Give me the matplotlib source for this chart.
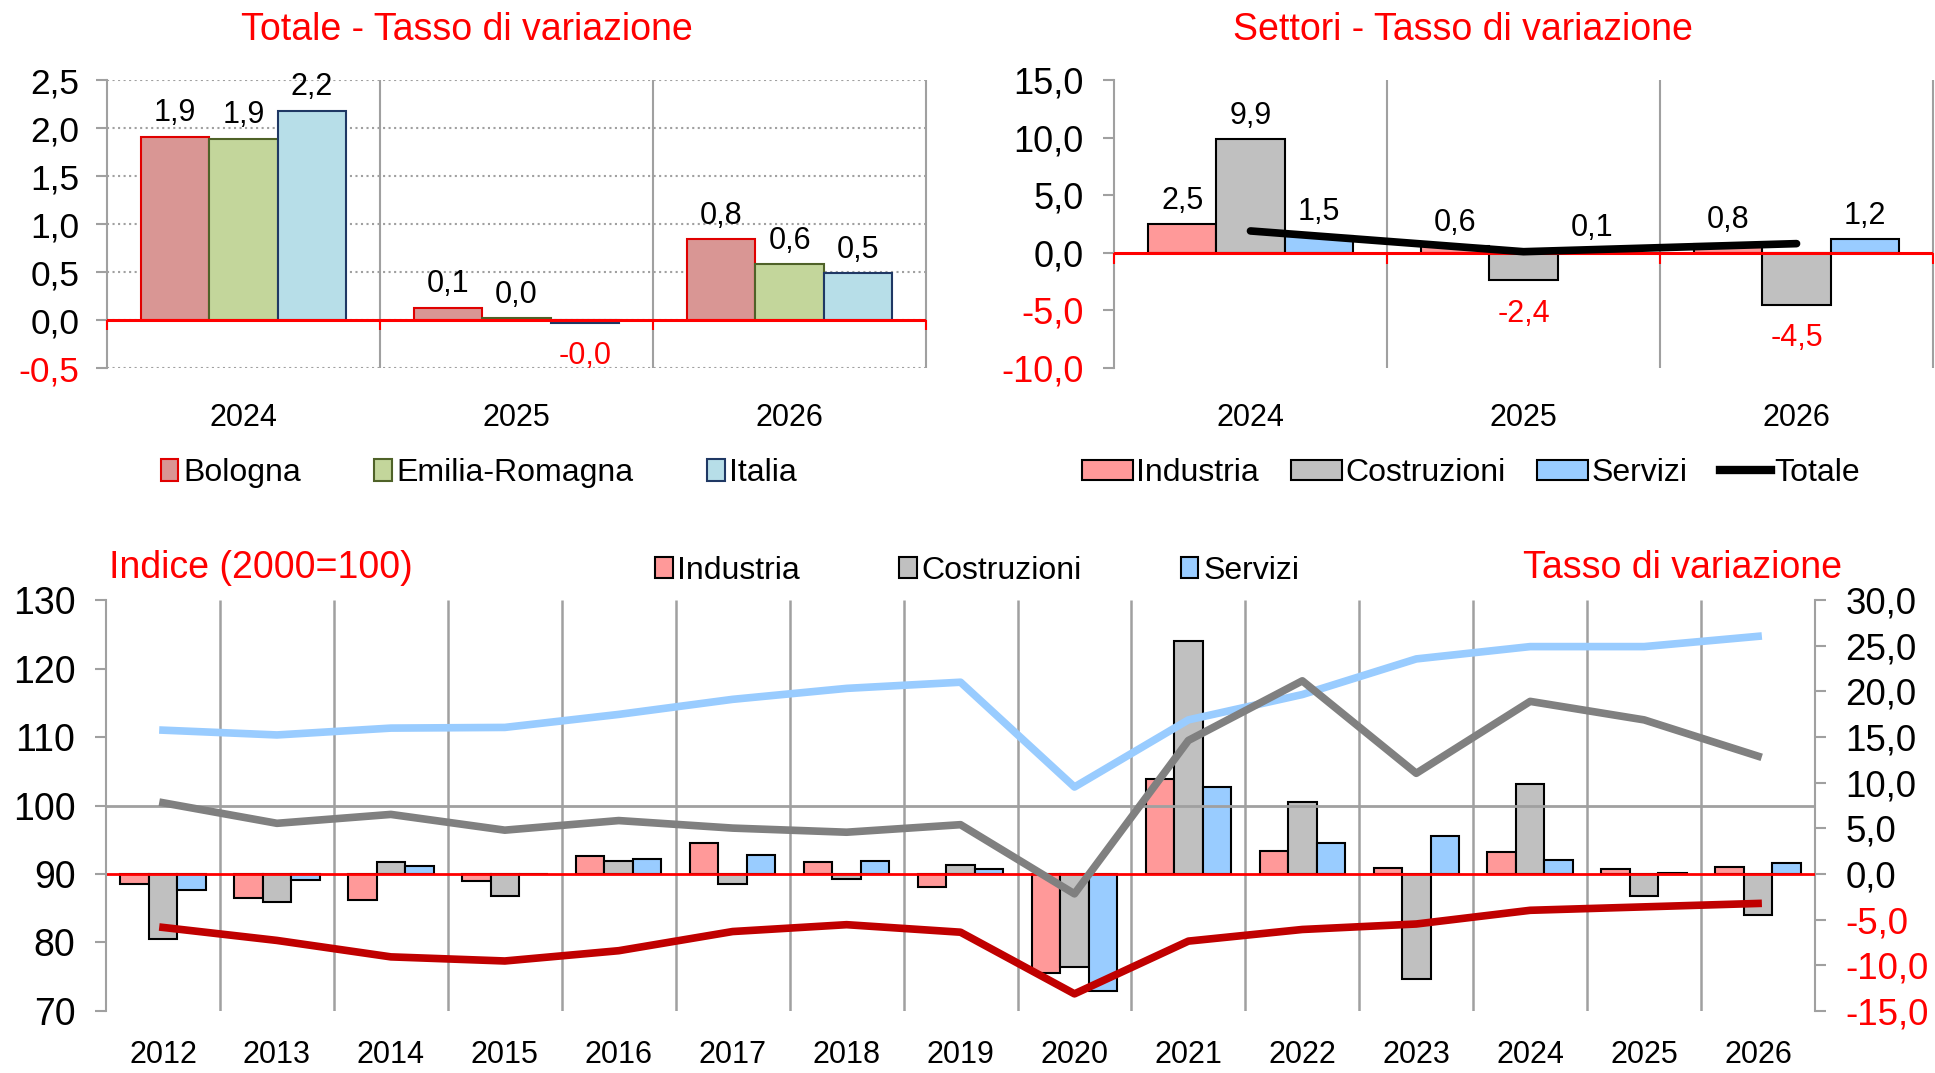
import numpy as np
import matplotlib
matplotlib.use('Agg')
import matplotlib.pyplot as plt
from matplotlib.patches import Patch
from matplotlib.lines import Line2D

plt.rcParams['font.family'] = ['Liberation Sans', 'DejaVu Sans']

# ---- data ----
years_top = ['2024', '2025', '2026']
bologna = [1.91, 0.13, 0.84]
emilia = [1.89, 0.02, 0.58]
italia = [2.18, -0.03, 0.49]

industria_tv = [2.5, 0.6, 0.8]
costruzioni_tv = [9.9, -2.4, -4.5]
servizi_tv = [1.5, 0.1, 1.2]
totale_tv = [1.9, 0.1, 0.8]

years_bot = [str(y) for y in range(2012, 2027)]
ind_rate = [-1.1, -2.6, -2.9, -0.8, 2.0, 3.4, 1.3, -1.4, -10.8, 10.4, 2.5, 0.65, 2.4, 0.6, 0.8]
cos_rate = [-7.1, -3.1, 1.3, -2.4, 1.4, -1.1, -0.6, 1.0, -10.2, 25.5, 7.9, -11.5, 9.9, -2.4, -4.5]
ser_rate = [-1.8, -0.7, 0.9, 0.05, 1.6, 2.1, 1.4, 0.5, -12.8, 9.5, 3.4, 4.2, 1.5, 0.1, 1.2]
ind_idx = [82.2, 80.3, 77.9, 77.3, 78.8, 81.6, 82.6, 81.5, 72.5, 80.2, 81.9, 82.7, 84.7, 85.2, 85.7]
cos_idx = [100.4, 97.4, 98.7, 96.4, 97.8, 96.7, 96.1, 97.2, 87.1, 109.5, 118.2, 104.7, 115.2, 112.5, 107.2]
ser_idx = [111.0, 110.3, 111.3, 111.4, 113.3, 115.5, 117.1, 118.0, 102.7, 112.5, 116.2, 121.4, 123.2, 123.2, 124.7]

GRID = '#A0A0A0'
RED = '#FF0000'


def fmt(v):
    return f"{v:.1f}".replace('.', ',')


def color_ticks(ax, ticks):
    ax.set_yticks(ticks)
    ax.set_yticklabels([fmt(t) for t in ticks])
    for t, lab in zip(ticks, ax.get_yticklabels()):
        lab.set_color(RED if t < 0 else 'black')


def bar_labels(ax, xs, vals, fs=22):
    for xi, v in zip(xs, vals):
        if v >= 0:
            ax.annotate(fmt(v), (xi, v), xytext=(0, 11), textcoords='offset points',
                        ha='center', va='baseline', fontsize=fs, color='black', zorder=6)
        else:
            ax.annotate(fmt(v), (xi, v), xytext=(0, -13), textcoords='offset points',
                        ha='center', va='top', fontsize=fs, color=RED, zorder=6)


fig = plt.figure(figsize=(19.35, 10.73), dpi=100)

# ---- top left: Totale ----
ax1 = fig.add_axes([0.0553, 0.657, 0.4233, 0.2684])
x = np.arange(3)
w = 0.25
series1 = [(bologna, '#D99694', '#E00000', 'Bologna'),
           (emilia, '#C3D69B', '#4F6228', 'Emilia-Romagna'),
           (italia, '#B7DEE8', '#1F3864', 'Italia')]
for k, (vals, fc, ec, name) in enumerate(series1):
    xs = x + (k - 1) * w
    ax1.bar(xs, vals, w, color=fc, edgecolor=ec, linewidth=1.5, zorder=3)
    bar_labels(ax1, xs, vals)
ax1.set_xlim(-0.5, 2.5)
ax1.set_ylim(-0.5, 2.5)
color_ticks(ax1, np.arange(-0.5, 2.51, 0.5))
ax1.yaxis.grid(True, linestyle=':', color=GRID, lw=1.5, zorder=0)
ax1.vlines([0.5, 1.5, 2.5], -0.5, 2.5, color=GRID, lw=1.5, zorder=1, clip_on=False)
ax1.axhline(0, color=RED, lw=2.2, zorder=4)
ax1.vlines([-0.5, 0.5, 1.5, 2.5], -0.1, 0, color=RED, lw=1.5, zorder=4, clip_on=False)
ax1.set_xticks(x)
ax1.set_xticklabels(years_top, fontsize=22)
ax1.tick_params(axis='x', length=0, pad=25)
ax1.tick_params(axis='y', labelsize=25.5, direction='out', length=8, color=GRID, width=1.5, pad=12)
for s in ['top', 'right', 'bottom']:
    ax1.spines[s].set_visible(False)
ax1.spines['left'].set_color(GRID)
ax1.spines['left'].set_linewidth(1.5)
fig.text(0.2413, 0.972, 'Totale - Tasso di variazione', ha='center', va='center',
         fontsize=27, color=RED)
h1 = [Patch(facecolor=fc, edgecolor=ec, linewidth=1.5, label=name) for _, fc, ec, name in series1]
fig.legend(handles=h1, loc='center', bbox_to_anchor=(0.2475, 0.559), ncol=3, frameon=False,
           fontsize=23, handlelength=0.55, handleheight=0.65, handletextpad=0.15, columnspacing=2.3)

# ---- top right: Settori ----
ax2 = fig.add_axes([0.5757, 0.657, 0.4233, 0.2684])
series2 = [(industria_tv, '#FF9999', 'Industria'),
           (costruzioni_tv, '#C0C0C0', 'Costruzioni'),
           (servizi_tv, '#99CCFF', 'Servizi')]
for k, (vals, fc, name) in enumerate(series2):
    xs = x + (k - 1) * w
    ax2.bar(xs, vals, w, color=fc, edgecolor='black', linewidth=1.5, zorder=3)
    bar_labels(ax2, xs, vals)
ax2.plot(x, totale_tv, color='black', lw=5.5, solid_capstyle='round', zorder=5)
ax2.set_xlim(-0.5, 2.5)
ax2.set_ylim(-10, 15)
color_ticks(ax2, np.arange(-10, 15.1, 5))
ax2.vlines([0.5, 1.5, 2.5], -10, 15, color=GRID, lw=1.5, zorder=1, clip_on=False)
ax2.axhline(0, color=RED, lw=2.2, zorder=4)
ax2.vlines([-0.5, 0.5, 1.5, 2.5], -1.0, 0, color=RED, lw=1.5, zorder=4, clip_on=False)
ax2.set_xticks(x)
ax2.set_xticklabels(years_top, fontsize=22)
ax2.tick_params(axis='x', length=0, pad=25)
ax2.tick_params(axis='y', labelsize=26, direction='out', length=8, color=GRID, width=1.5, pad=14)
for s in ['top', 'right', 'bottom']:
    ax2.spines[s].set_visible(False)
ax2.spines['left'].set_color(GRID)
ax2.spines['left'].set_linewidth(1.5)
fig.text(0.756, 0.972, 'Settori - Tasso di variazione', ha='center', va='center',
         fontsize=27, color=RED)
h2 = [Patch(facecolor=fc, edgecolor='black', linewidth=1.5, label=name) for _, fc, name in series2]
h2.append(Line2D([0], [0], color='black', lw=6, label='Totale'))
fig.legend(handles=h2, loc='center', bbox_to_anchor=(0.760, 0.559), ncol=4, frameon=False,
           fontsize=23, handlelength=1.6, handleheight=0.6, handletextpad=0.1, columnspacing=1.0)

# ---- bottom: indice + tasso ----
axi = fig.add_axes([0.0548, 0.0578, 0.8832, 0.383])
axr = axi.twinx()
axr.set_zorder(1)
axi.set_zorder(2)
axi.patch.set_visible(False)
axr.patch.set_visible(False)

xb = np.arange(len(years_bot))
series3 = [(ind_rate, '#FF9999', 'Industria'),
           (cos_rate, '#C0C0C0', 'Costruzioni'),
           (ser_rate, '#99CCFF', 'Servizi')]
for k, (vals, fc, name) in enumerate(series3):
    axr.bar(xb + (k - 1) * w, vals, w, color=fc, edgecolor='black', linewidth=1.5, zorder=3)
axr.vlines(np.arange(0.5, 14, 1), -15, 30, color=GRID, lw=1.8, zorder=1)
axr.axhline(0, color=RED, lw=2, zorder=4)
axr.set_ylim(-15, 30)
color_ticks(axr, np.arange(-15, 30.1, 5))
axr.tick_params(axis='y', labelsize=26.5, direction='out', length=8, color=GRID, width=1.5, pad=14)

axi.axhline(100, color=GRID, lw=2, zorder=1)
axi.plot(xb, ser_idx, color='#99CCFF', lw=5.5, zorder=3)
axi.plot(xb, cos_idx, color='#808080', lw=5.5, zorder=3)
axi.plot(xb, ind_idx, color='#C00000', lw=5.5, zorder=3)
axi.set_xlim(-0.5, 14.5)
axi.set_ylim(70, 130)
axi.set_yticks(np.arange(70, 131, 10))
axi.set_xticks(xb)
axi.set_xticklabels(years_bot, fontsize=22)
axi.tick_params(axis='x', length=0, pad=21)
axi.tick_params(axis='y', labelsize=27, direction='out', length=8, color=GRID, width=1.5, pad=14)

for s in ['top', 'right', 'bottom']:
    axi.spines[s].set_visible(False)
for s in ['top', 'left', 'bottom']:
    axr.spines[s].set_visible(False)
axi.spines['left'].set_color(GRID)
axi.spines['left'].set_linewidth(1.5)
axr.spines['right'].set_color(GRID)
axr.spines['right'].set_linewidth(1.5)

fig.text(0.0563, 0.4705, 'Indice (2000=100)', ha='left', va='center', fontsize=27, color=RED)
fig.text(0.952, 0.4705, 'Tasso di variazione', ha='right', va='center', fontsize=27, color=RED)
h3 = [Patch(facecolor=fc, edgecolor='black', linewidth=1.5, label=name) for _, fc, name in series3]
fig.legend(handles=h3, loc='center', bbox_to_anchor=(0.505, 0.468), ncol=3, frameon=False,
           fontsize=23, handlelength=0.55, handleheight=0.65, handletextpad=0.15, columnspacing=3.1)

fig.savefig('out.png', dpi=100, facecolor='white')
